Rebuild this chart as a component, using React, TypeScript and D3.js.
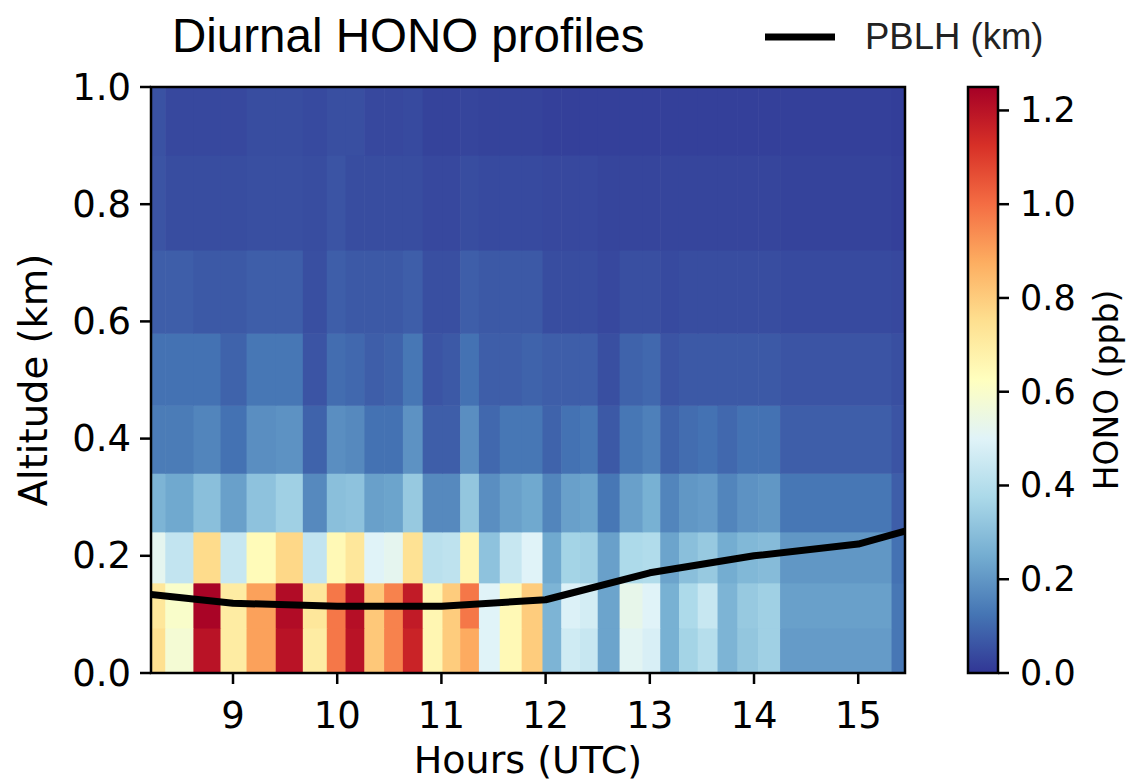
import React from "react";
import * as d3 from "d3";

// Time bin edges (hours UTC)
const timeEdges = [8.213, 8.35, 8.62, 8.88, 9.13, 9.41, 9.67, 9.9, 10.08, 10.26, 10.45, 10.63, 10.82, 11.01, 11.18, 11.36, 11.56, 11.77, 11.97, 12.15, 12.33, 12.5, 12.71, 12.93, 13.1, 13.28, 13.46, 13.65, 13.84, 14.04, 14.25, 15.32, 15.449];
// Altitude bin edges (km)
const altEdges = [0, 0.077, 0.154, 0.241, 0.341, 0.457, 0.58, 0.722, 0.884, 1.0];

// HONO (ppb), one array per altitude layer (bottom to top)
const layer0 = [0.75, 0.58, 1.2, 0.7, 0.9, 1.2, 0.7, 0.98, 1.2, 0.81, 0.96, 1.16, 0.66, 0.8, 0.88, 0.5, 0.65, 0.8, 0.27, 0.46, 0.44, 0.23, 0.51, 0.48, 0.26, 0.36, 0.4, 0.27, 0.32, 0.35, 0.21, 0.13];
const layer1 = [0.72, 0.6, 1.24, 0.7, 0.9, 1.22, 0.72, 0.98, 1.21, 0.81, 0.96, 1.18, 0.66, 0.8, 0.98, 0.5, 0.65, 0.8, 0.27, 0.49, 0.47, 0.23, 0.53, 0.5, 0.26, 0.38, 0.44, 0.27, 0.33, 0.35, 0.22, 0.13];
const layer2 = [0.52, 0.43, 0.76, 0.44, 0.64, 0.77, 0.43, 0.65, 0.72, 0.5, 0.52, 0.74, 0.41, 0.42, 0.66, 0.31, 0.44, 0.5, 0.24, 0.36, 0.35, 0.22, 0.38, 0.39, 0.23, 0.3, 0.33, 0.25, 0.28, 0.29, 0.2, 0.12];
const layer3 = [0.27, 0.24, 0.3, 0.22, 0.31, 0.35, 0.17, 0.3, 0.31, 0.22, 0.23, 0.33, 0.17, 0.17, 0.32, 0.18, 0.22, 0.24, 0.16, 0.22, 0.23, 0.13, 0.22, 0.26, 0.16, 0.2, 0.21, 0.16, 0.19, 0.2, 0.13, 0.08];
const layer4 = [0.14, 0.14, 0.16, 0.12, 0.18, 0.19, 0.09, 0.18, 0.17, 0.12, 0.12, 0.19, 0.08, 0.08, 0.18, 0.1, 0.13, 0.13, 0.09, 0.12, 0.13, 0.07, 0.13, 0.15, 0.09, 0.11, 0.12, 0.1, 0.12, 0.12, 0.08, 0.06];
const layer5 = [0.12, 0.12, 0.12, 0.09, 0.13, 0.13, 0.06, 0.11, 0.1, 0.08, 0.09, 0.13, 0.06, 0.07, 0.12, 0.08, 0.08, 0.09, 0.08, 0.08, 0.08, 0.05, 0.09, 0.1, 0.06, 0.07, 0.07, 0.07, 0.07, 0.07, 0.06, 0.05];
const layer6 = [0.08, 0.08, 0.07, 0.07, 0.08, 0.08, 0.05, 0.08, 0.07, 0.07, 0.07, 0.08, 0.05, 0.05, 0.08, 0.07, 0.07, 0.07, 0.045, 0.045, 0.045, 0.035, 0.05, 0.05, 0.04, 0.045, 0.045, 0.045, 0.045, 0.045, 0.04, 0.035];
const layer7 = [0.06, 0.045, 0.045, 0.045, 0.05, 0.05, 0.045, 0.06, 0.045, 0.045, 0.045, 0.045, 0.035, 0.035, 0.045, 0.04, 0.04, 0.04, 0.035, 0.035, 0.035, 0.03, 0.03, 0.03, 0.03, 0.03, 0.03, 0.03, 0.03, 0.03, 0.025, 0.02];
const layer8 = [0.055, 0.035, 0.035, 0.035, 0.045, 0.045, 0.04, 0.05, 0.05, 0.035, 0.035, 0.04, 0.025, 0.025, 0.03, 0.025, 0.025, 0.025, 0.02, 0.02, 0.02, 0.02, 0.02, 0.02, 0.02, 0.02, 0.02, 0.02, 0.02, 0.02, 0.02, 0.015];
const layers = [layer0, layer1, layer2, layer3, layer4, layer5, layer6, layer7, layer8];

// PBLH (km)
const pblhHours = [8.213, 9.0, 10.0, 11.0, 12.0, 13.0, 14.0, 15.0, 15.449];
const pblhKm = [0.134, 0.119, 0.114, 0.114, 0.125, 0.171, 0.2, 0.22, 0.242];

const xTicks = [9, 10, 11, 12, 13, 14, 15];
const yTicks = [0, 0.2, 0.4, 0.6, 0.8, 1.0];
const cbTicks = [0, 0.2, 0.4, 0.6, 0.8, 1.0, 1.2];

const rdylbu = ["#313695", "#4575b4", "#74add1", "#abd9e9", "#e0f3f8", "#ffffbf", "#fee090", "#fdae61", "#f46d43", "#d73027", "#a50026"];
const vmin = 0;
const vmax = 1.25;

const FONT = "DejaVu Sans";
const TITLE_FONT = "Liberation Sans";

export default function App() {
  const left = 151, right = 905, top = 87, bottom = 673;
  const x = d3.scaleLinear().domain([8.213, 15.449]).range([left, right]);
  const y = d3.scaleLinear().domain([0, 1]).range([bottom, top]);
  const color = d3
    .scaleLinear<string>()
    .domain(rdylbu.map((_, i) => vmin + (i / (rdylbu.length - 1)) * (vmax - vmin)))
    .range(rdylbu)
    .interpolate(d3.interpolateRgb)
    .clamp(true);

  const cbLeft = 968, cbRight = 998;
  const cy = d3.scaleLinear().domain([vmin, vmax]).range([bottom, top]);

  const cells: React.ReactNode[] = [];
  layers.forEach((row, j) => {
    row.forEach((v, i) => {
      const x0 = x(timeEdges[i]);
      const x1 = x(timeEdges[i + 1]);
      const y0 = y(altEdges[j + 1]);
      const y1 = y(altEdges[j]);
      cells.push(
        <rect key={`${j}-${i}`} x={x0} y={y0} width={x1 - x0 + 0.6} height={y1 - y0 + 0.6} fill={color(v)} />
      );
    });
  });

  const line = d3
    .line<number>()
    .x((_, i) => x(pblhHours[i]))
    .y((d) => y(d));

  const tickFs = 37;

  return (
    <svg
      width={1129}
      height={782}
      style={{ position: "absolute", left: 0, top: 0, background: "#fff" }}
    >
      <defs>
        <linearGradient id="cb" x1="0" y1="1" x2="0" y2="0">
          {rdylbu.map((c, i) => (
            <stop key={i} offset={`${(i / (rdylbu.length - 1)) * 100}%`} stopColor={c} />
          ))}
        </linearGradient>
        <clipPath id="plotclip">
          <rect x={left} y={top} width={right - left} height={bottom - top} />
        </clipPath>
      </defs>

      {/* title */}
      <text x={172} y={52} fontFamily={TITLE_FONT} fontSize={47.5} fill="#000">
        Diurnal HONO profiles
      </text>

      {/* legend */}
      <line x1={765} x2={835} y1={37} y2={37} stroke="#000" strokeWidth={7} />
      <text x={865} y={49} fontFamily={TITLE_FONT} fontSize={36.5} fill="#222">
        PBLH (km)
      </text>

      {/* heatmap */}
      <g clipPath="url(#plotclip)">
        {cells}
        <path d={line(pblhKm) || ""} fill="none" stroke="#000" strokeWidth={7} strokeLinejoin="round" />
      </g>

      {/* frame */}
      <rect x={left} y={top} width={right - left} height={bottom - top} fill="none" stroke="#000" strokeWidth={2.5} />

      {/* x axis */}
      {xTicks.map((t) => (
        <g key={t}>
          <line x1={x(t)} x2={x(t)} y1={bottom} y2={bottom + 11} stroke="#000" strokeWidth={2.5} />
          <text x={x(t)} y={728} textAnchor="middle" fontFamily={FONT} fontSize={tickFs} fill="#000">
            {t}
          </text>
        </g>
      ))}
      <text x={528} y={773} textAnchor="middle" fontFamily={FONT} fontSize={38} fill="#000">
        Hours (UTC)
      </text>

      {/* y axis */}
      {yTicks.map((t) => (
        <g key={t}>
          <line x1={left - 11} x2={left} y1={y(t)} y2={y(t)} stroke="#000" strokeWidth={2.5} />
          <text x={131} y={y(t)} textAnchor="end" dominantBaseline="central" fontFamily={FONT} fontSize={tickFs} fill="#000">
            {t.toFixed(1)}
          </text>
        </g>
      ))}
      <text
        transform={`translate(47, 380) rotate(-90)`}
        textAnchor="middle"
        fontFamily={FONT}
        fontSize={38.5}
        fill="#000"
      >
        Altitude (km)
      </text>

      {/* colorbar */}
      <rect x={cbLeft} y={top} width={cbRight - cbLeft} height={bottom - top} fill="url(#cb)" />
      <rect x={cbLeft} y={top} width={cbRight - cbLeft} height={bottom - top} fill="none" stroke="#000" strokeWidth={2.5} />
      {cbTicks.map((t) => (
        <g key={t}>
          <line x1={cbRight} x2={cbRight + 11} y1={cy(t)} y2={cy(t)} stroke="#000" strokeWidth={2.5} />
          <text x={1020} y={cy(t)} dominantBaseline="central" fontFamily={FONT} fontSize={35} fill="#000">
            {t.toFixed(1)}
          </text>
        </g>
      ))}
      <text
        transform={`translate(1118, 390) rotate(-90)`}
        textAnchor="middle"
        fontFamily={FONT}
        fontSize={33}
        fill="#000"
      >
        HONO (ppb)
      </text>
    </svg>
  );
}
